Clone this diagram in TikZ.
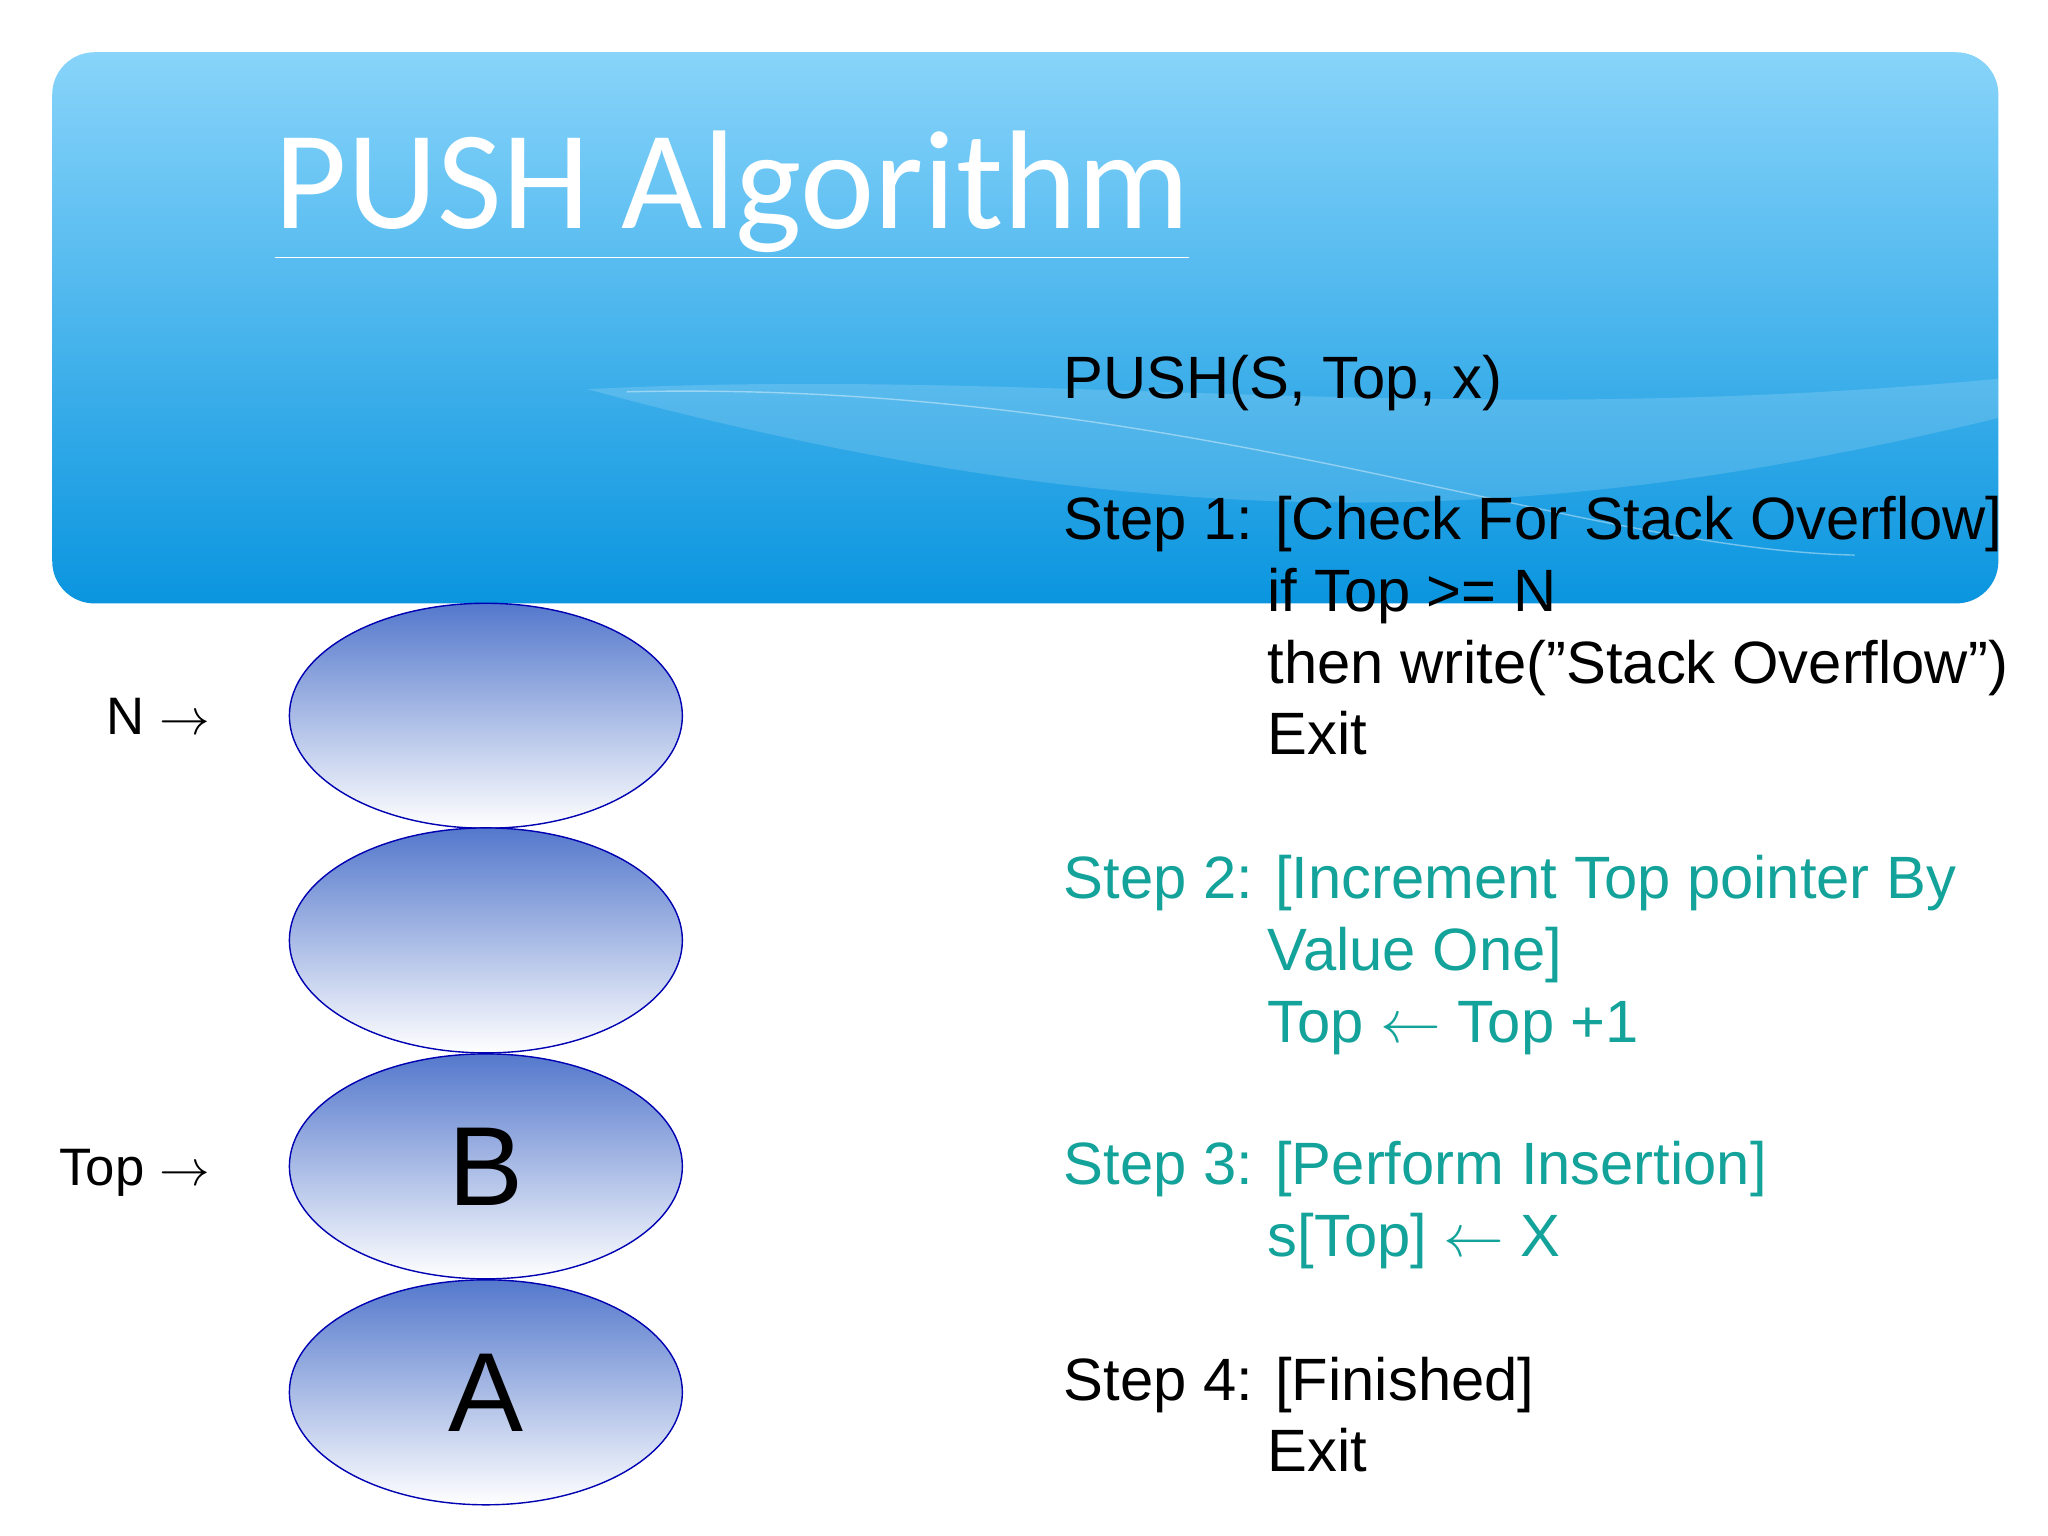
\documentclass[tikz,border=0pt]{standalone}
\usepackage{fontspec}
\setmainfont{Liberation Sans}
\newfontfamily\titlefont{Carlito}
\usetikzlibrary{positioning,shapes.geometric}
\definecolor{bandtop}{HTML}{88D4FA}
\definecolor{bandbot}{HTML}{0A95DF}
\definecolor{balltop}{HTML}{5478CC}
\definecolor{stepteal}{HTML}{14A39A}
\tikzset{
  ball/.style={draw=blue!70!black,thin,top color=balltop,bottom color=white,ellipse,minimum width=3.93cm,minimum height=2.25cm},
  ptr/.style={font=\fontsize{15}{15}\selectfont,anchor=base east},
  big/.style={font=\fontsize{32}{32}\selectfont},
  code/.style={font=\fontsize{17}{17}\selectfont,anchor=base west,inner sep=0pt}
}
\begin{document}
\begin{tikzpicture}[x=0.01306cm,y=-0.01306cm]
\useasboundingbox (0,0) rectangle (1568,1176);
\fill[white] (0,0) rectangle (1568,1176);
%bandeira
  \shade[top color=bandtop,bottom color=bandbot,rounded corners=12] (40,40) rectangle (1530,462);
  \fill[white,opacity=0.15] (450,298) .. controls (800,280) and (1100,330) .. (1530,290) -- (1530,320) .. controls (1200,400) and (900,420) .. (450,298);
  \draw[white,opacity=0.4] (480,300) .. controls (900,290) and (1200,420) .. (1420,425);
  \node[white,anchor=base west,inner sep=0pt,font=\titlefont\fontsize{40}{40}\selectfont] (title) at (210,175) {\underline{PUSH Algorithm}};
%pilha
  \node[ball] (b4) at (372,548) {};
  \node[ball] (b3) at (372,720) {};
  \node[ball] (b2) at (372,893) {};
  \node[ball] (b1) at (372,1066) {};
  \node[big] at (b2) {B};
  \node[big] at (b1) {A};
  \node[ptr] (nlab) at (170,562) {N $\rightarrow$};
  \node[ptr] (toplab) at (170,908) {Top $\rightarrow$};
%algoritmo
  \node[code] (head) at (814,305) {PUSH(S, Top, x)};
  \node[code] (s1) at (814,413) {Step 1: [Check For Stack Overflow]};
  \node[code] at (970,468) {if Top >= N};
  \node[code] at (970,523) {then write("Stack Overflow")};
  \node[code] at (970,578) {Exit};
  \begin{scope}[stepteal]
  \node[code] (s2) at (814,688) {Step 2: [Increment Top pointer By};
  \node[code] at (970,743) {Value One]};
  \node[code] at (970,798) {Top $\leftarrow$ Top +1};
  \node[code] (s3) at (814,907) {Step 3: [Perform Insertion]};
  \node[code] at (970,962) {s[Top] $\leftarrow$ X};
  \end{scope}
  \node[code] (s4) at (814,1072) {Step 4: [Finished]};
  \node[code] at (970,1127) {Exit};
\end{tikzpicture}
\end{document}
